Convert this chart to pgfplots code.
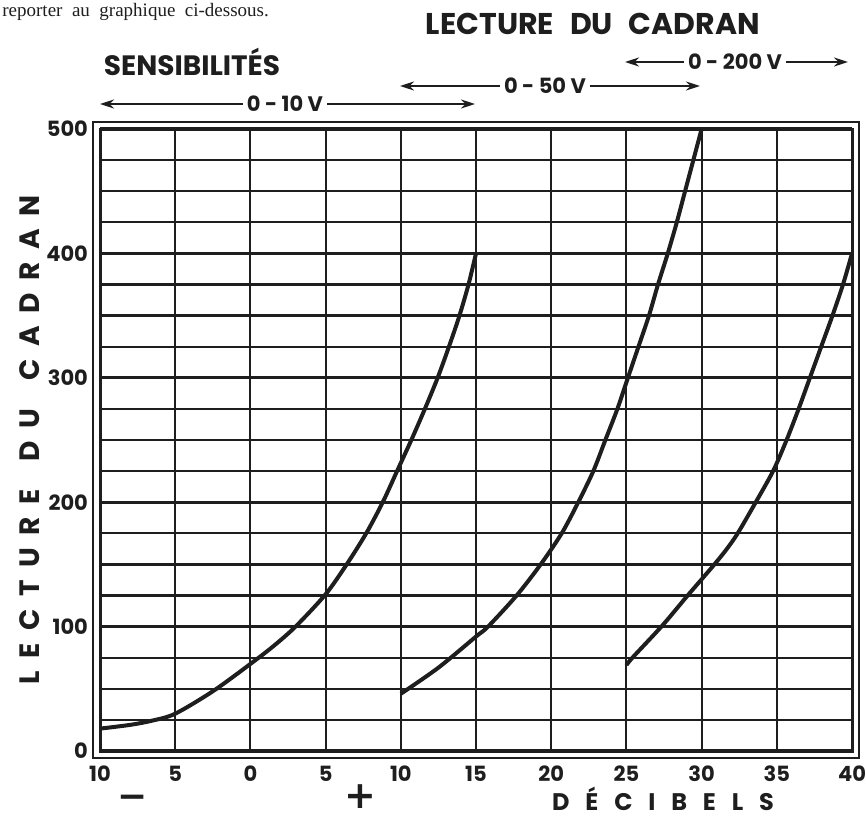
\documentclass[border=0pt]{standalone}
\usepackage{pgfplots}
\pgfplotsset{compat=1.18}
\usepackage{fontspec}
\setmainfont{Poppins}
\newfontfamily\seriffont{Liberation Serif}
\newfontfamily\symfont{DejaVu Sans}
\usetikzlibrary{arrows.meta}
\definecolor{ink}{HTML}{1E1E1E}

\begin{document}
\begin{tikzpicture}
\useasboundingbox (0,0) rectangle (433pt,408pt);
\begin{axis}[
  at={(50pt,32.5pt)}, anchor=south west,
  width=376pt, height=311pt, scale only axis,
  xmin=-10, xmax=40, ymin=0, ymax=500,
  xtick={-10,-5,...,40},
  xticklabels={10,5,0,5,10,15,20,25,30,35,40},
  ytick={0,100,...,500},
  minor ytick={25,50,...,475},
  grid=both,
  major x grid style={ink, line width=1pt},
  major y grid style={ink, line width=1.6pt},
  minor y grid style={ink, line width=1.15pt},
  major tick length=0pt, minor tick length=0pt,
  axis line style={ink, line width=1.5pt},
  /pgf/number format/assume math mode=true,
  tick label style={font=\fontsize{10.5}{12}\selectfont\bfseries, text=ink},
  yticklabel style={anchor=east, xshift=-2.5pt},
  xticklabel style={anchor=north, yshift=-4pt},
  clip=false,
]
\draw[ink, line width=1pt] ([shift={(-3.4pt,-3.4pt)}]rel axis cs:0,0) rectangle ([shift={(3.4pt,3.4pt)}]rel axis cs:1,1);
\addplot[ink, line width=2pt, smooth] coordinates {
 (-10,18) (-8,21) (-6.5,24.5) (-5,30) (-2.5,48) (0,70) (1.5,84) (3,100) (5,126) (6.4,150) (7.7,175) (8.8,200) (9.75,225) (10.7,250) (11.6,275) (12.45,300) (13.2,325) (13.9,350) (14.5,375) (15,400)
};
\addplot[ink, line width=2pt, smooth] coordinates {
 (10,46) (12.5,67) (15,92) (15.8,100) (17.7,125) (19.3,150) (20.7,175) (21.8,200) (22.8,225) (23.6,250) (24.4,275) (25.1,300) (25.8,325) (26.5,350) (27.1,375) (27.75,400) (28.35,425) (28.9,450) (29.45,475) (30,500)
};
\addplot[ink, line width=2pt, smooth] coordinates {
 (25,69) (25.4,75) (27.4,101) (29,124) (30,138) (30.85,150) (31.65,162) (32.4,175) (33.6,200) (34.75,225) (35.65,250) (36.45,275) (37.2,300) (37.95,325) (38.7,350) (39.4,375) (40,400)
};
\end{axis}
\begin{scope}[x=0.5pt,y=0.5pt]
\node[anchor=base west, text=ink, inner sep=0pt, font=\seriffont\fontsize{9.5}{11}\selectfont] at (2,799) {reporter\ \ au\ \ graphique\ \ ci-dessous.};
\node[text=ink, font=\fontsize{15}{18}\selectfont\bfseries] at (593,792) {LECTURE\hspace{8pt}DU\hspace{8pt}CADRAN};
\node[text=ink, font=\fontsize{14}{16}\selectfont\bfseries] at (192,754) {SENSIBILITÉS};
\node[text=ink, font=\fontsize{10.5}{12}\selectfont\bfseries, inner sep=2pt] (a1) at (285,712) {0 - 10 V};
\draw[ink, line width=1pt, -{Stealth[length=7pt,width=4.5pt]}] (a1.west) -- (100,712);
\draw[ink, line width=1pt, -{Stealth[length=7pt,width=4.5pt]}] (a1.east) -- (475,712);
\node[text=ink, font=\fontsize{10.5}{12}\selectfont\bfseries, inner sep=2pt] (a2) at (545,730) {0 - 50 V};
\draw[ink, line width=1pt, -{Stealth[length=7pt,width=4.5pt]}] (a2.west) -- (400,730);
\draw[ink, line width=1pt, -{Stealth[length=7pt,width=4.5pt]}] (a2.east) -- (700,730);
\node[text=ink, font=\fontsize{10.5}{12}\selectfont\bfseries, inner sep=2pt] (a3) at (735,754) {0 - 200 V};
\draw[ink, line width=1pt, -{Stealth[length=7pt,width=4.5pt]}] (a3.west) -- (625,754);
\draw[ink, line width=1pt, -{Stealth[length=7pt,width=4.5pt]}] (a3.east) -- (848,754);
\node[text=ink, rotate=90, font=\fontsize{14}{16}\selectfont\bfseries\addfontfeature{LetterSpace=45}] at (30,376) {LECTURE\hspace{14pt}DU\hspace{14pt}CADRAN};
\node[anchor=base, text=ink, inner sep=0pt, text depth=0pt, font=\symfont\fontsize{18}{18}\selectfont\bfseries] at (133,8) {−};
\node[anchor=base, text=ink, inner sep=0pt, text depth=0pt, font=\symfont\fontsize{19}{19}\selectfont\bfseries] at (360,8) {+};
\node[anchor=base, text=ink, inner sep=0pt, text depth=0pt, font=\fontsize{12}{14}\selectfont\bfseries\addfontfeature{LetterSpace=66}] at (663,6) {DÉCIBELS};
\end{scope}
\end{tikzpicture}
\end{document}
